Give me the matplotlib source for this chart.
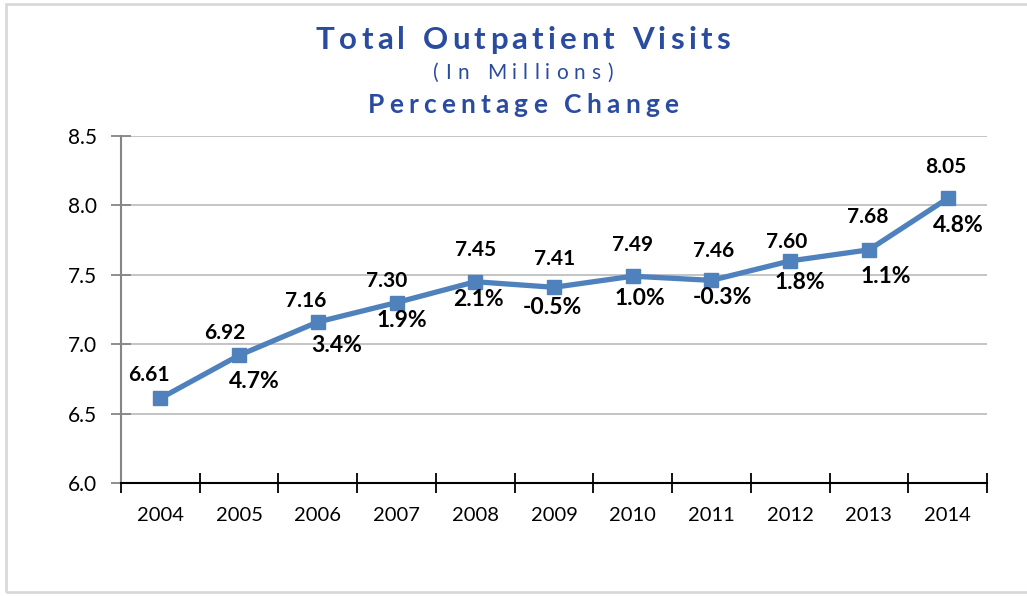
import matplotlib.pyplot as plt
from matplotlib.patches import Rectangle

years = ['2004', '2005', '2006', '2007', '2008', '2009', '2010', '2011', '2012', '2013', '2014']
visits = [6.61, 6.92, 7.16, 7.30, 7.45, 7.41, 7.49, 7.46, 7.60, 7.68, 8.05]
pct_change = ['', '4.7%', '3.4%', '1.9%', '2.1%', '-0.5%', '1.0%', '-0.3%', '1.8%', '1.1%', '4.8%']
y_ticks = [6.0, 6.5, 7.0, 7.5, 8.0, 8.5]

# label offsets in pixels from each point (dx, dy)
value_offsets = [(-11, 23), (-14, 22), (-12, 21), (-10, 22), (0, 32), (1, 28),
                 (0, 31), (2, 29), (-4, 19), (-1, 33), (-2, 31)]
pct_offsets = [(0, 0), (15, -26), (19, -24), (5, -18), (3, -18), (-2, -20),
               (7, -22), (11, -17), (10, -22), (17, -27), (11, -27)]

FONT = 'Lato'
TITLE_COLOR = '#2A4CA0'
LINE_COLOR = '#4F81BD'


def spaced_text(fig, renderer, x_center, y, s, target_width, size, weight):
    # draw a string letter by letter to get the wide letter spacing of the original
    chars = []
    widths = []
    space_w = size * 100 / 72 * 0.28
    for ch in s:
        if ch == ' ':
            chars.append(None)
            widths.append(space_w)
            continue
        t = fig.text(0, 0, ch, fontsize=size, fontweight=weight, color=TITLE_COLOR,
                     family=FONT, va='center', ha='left', transform=None)
        chars.append(t)
        widths.append(t.get_window_extent(renderer).width)
    track = (target_width - sum(widths)) / (len(s) - 1)
    x = x_center - target_width / 2
    for t, w in zip(chars, widths):
        if t is not None:
            t.set_position((x, y))
        x += w + track


fig = plt.figure(figsize=(10.27, 5.96), dpi=100)
ax = fig.add_axes([121 / 1027, 1 - 483 / 596, 866 / 1027, 347 / 596])

x = list(range(len(years)))
ax.plot(x, visits, color=LINE_COLOR, lw=3.8, marker='s', markersize=10,
        markerfacecolor=LINE_COLOR, markeredgecolor=LINE_COLOR, zorder=3)

for i in x:
    ax.annotate('{:.2f}'.format(visits[i]), (i, visits[i]), xytext=value_offsets[i],
                textcoords='offset pixels', ha='center', va='center',
                fontsize=15, fontweight='bold', family=FONT, color='black')
    if pct_change[i]:
        ax.annotate(pct_change[i], (i, visits[i]), xytext=pct_offsets[i],
                    textcoords='offset pixels', ha='center', va='center',
                    fontsize=16.5, fontweight='bold', family=FONT, color='black')

ax.set_xlim(-0.5, len(years) - 0.5)
ax.set_ylim(6.0, 8.5)
ax.set_yticks(y_ticks)
ax.set_yticklabels(['{:.1f}'.format(v) for v in y_ticks], fontsize=15, family=FONT)
ax.set_xticks(x)
ax.set_xticklabels(years, fontsize=14.5, family=FONT)
ax.set_xticks([i - 0.5 for i in range(len(years) + 1)], minor=True)
ax.tick_params(axis='x', which='major', length=0, pad=17)
ax.tick_params(axis='x', which='minor', direction='inout', length=14, width=1.3, color='black')
ax.tick_params(axis='y', direction='inout', length=14, width=1.3, color='#868686', pad=10)

ax.grid(axis='y', color='#BFBFBF', lw=1.3)
ax.set_axisbelow(True)
for side in ['top', 'right']:
    ax.spines[side].set_visible(False)
ax.spines['left'].set_color('#868686')
ax.spines['left'].set_linewidth(1.5)
ax.spines['bottom'].set_color('black')
ax.spines['bottom'].set_linewidth(1.5)
ax.spines['bottom'].set_zorder(4)

# outer chart frame
fig.patches.append(Rectangle((6, 4), 1100, 588, transform=None, fill=False,
                             edgecolor='#D9D9D9', lw=2))

renderer = fig.canvas.get_renderer()
spaced_text(fig, renderer, 523, 596 - 40, 'Total Outpatient Visits', 414, 22.5, 'bold')
spaced_text(fig, renderer, 523, 596 - 73, '(In Millions)', 179, 15, 'normal')
spaced_text(fig, renderer, 523, 596 - 105, 'Percentage Change', 310, 19, 'bold')

plt.savefig('out.png', dpi=100)
